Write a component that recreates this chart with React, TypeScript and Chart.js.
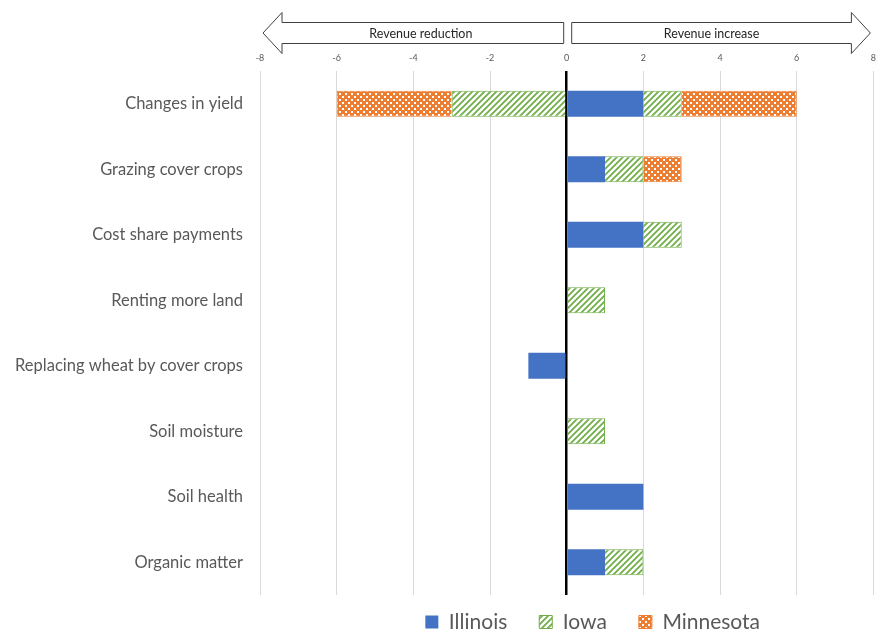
import React, { useEffect, useRef } from "react";
import { Chart, registerables } from "chart.js";

Chart.register(...registerables);

const categories = [
  "Changes in yield",
  "Grazing cover crops",
  "Cost share payments",
  "Renting more land",
  "Replacing wheat by cover crops",
  "Soil moisture",
  "Soil health",
  "Organic matter",
];
const illinois = [2, 1, 2, 0, -1, 0, 2, 1];
const iowa = [1, 1, 1, 1, 0, 1, 0, 1];
const iowaNeg = [-3, 0, 0, 0, 0, 0, 0, 0];
const minnesota = [3, 1, 0, 0, 0, 0, 0, 0];
const minnesotaNeg = [-3, 0, 0, 0, 0, 0, 0, 0];
const xMin = -8;
const xMax = 8;
const xStep = 2;
const arrowLeftText = "Revenue reduction";
const arrowRightText = "Revenue increase";

const BLUE = "#4472C4";
const GREEN = "#70AD47";
const ORANGE = "#ED7D31";
const FONT = "Lato, 'Open Sans', sans-serif";
const LEGEND_GAP = 32;
const LEGEND_FONT = 21;

function hatchPattern(): CanvasPattern | string {
  const c = document.createElement("canvas");
  c.width = 6;
  c.height = 6;
  const g = c.getContext("2d");
  if (!g) return GREEN;
  g.fillStyle = "#ffffff";
  g.fillRect(0, 0, 6, 6);
  g.strokeStyle = GREEN;
  g.lineWidth = 1.8;
  g.beginPath();
  g.moveTo(-1, 7);
  g.lineTo(7, -1);
  g.moveTo(-4, 4);
  g.lineTo(4, -4);
  g.moveTo(2, 10);
  g.lineTo(10, 2);
  g.stroke();
  return g.createPattern(c, "repeat") || GREEN;
}

function checkPattern(): CanvasPattern | string {
  const c = document.createElement("canvas");
  c.width = 6;
  c.height = 6;
  const g = c.getContext("2d");
  if (!g) return ORANGE;
  g.fillStyle = ORANGE;
  g.fillRect(0, 0, 6, 6);
  g.fillStyle = "#ffffff";
  g.fillRect(0, 0, 2, 2);
  g.fillRect(3, 3, 2, 2);
  return g.createPattern(c, "repeat") || ORANGE;
}

const arrowPlugin = {
  id: "revenueArrows",
  afterDraw(chart: any) {
    const ctx = chart.ctx;
    const x = chart.scales.x;
    const left = x.getPixelForValue(xMin) + 3;
    const zero = x.getPixelForValue(0);
    const right = x.getPixelForValue(xMax) - 3;
    const cy = 33;
    const bodyH = 10.5;
    const headH = 20.5;
    const headW = 19;
    ctx.save();
    ctx.strokeStyle = "#404040";
    ctx.lineWidth = 1;
    ctx.fillStyle = "#ffffff";
    ctx.beginPath();
    ctx.moveTo(left, cy);
    ctx.lineTo(left + headW, cy - headH);
    ctx.lineTo(left + headW, cy - bodyH);
    ctx.lineTo(zero - 3, cy - bodyH);
    ctx.lineTo(zero - 3, cy + bodyH);
    ctx.lineTo(left + headW, cy + bodyH);
    ctx.lineTo(left + headW, cy + headH);
    ctx.closePath();
    ctx.fill();
    ctx.stroke();
    ctx.beginPath();
    ctx.moveTo(right, cy);
    ctx.lineTo(right - headW, cy - headH);
    ctx.lineTo(right - headW, cy - bodyH);
    ctx.lineTo(zero + 5, cy - bodyH);
    ctx.lineTo(zero + 5, cy + bodyH);
    ctx.lineTo(right - headW, cy + bodyH);
    ctx.lineTo(right - headW, cy + headH);
    ctx.closePath();
    ctx.fill();
    ctx.stroke();
    ctx.fillStyle = "#262626";
    ctx.font = "12.5px " + FONT;
    ctx.textAlign = "center";
    ctx.textBaseline = "middle";
    ctx.fillText(arrowLeftText, (left + headW + zero - 3) / 2 - 2, cy + 1);
    ctx.fillText(arrowRightText, (right - headW + zero + 5) / 2, cy + 1);
    ctx.restore();
  },
};

// Move the legend up into place and shift it right, as in the reference
const legendShift = {
  id: "legendShift",
  afterLayout(chart: any) {
    const lg = chart.legend;
    if (!lg) return;
    const dy = -15.5;
    const dx = 26;
    lg.top += dy;
    lg.bottom += dy;
    lg.left += dx;
    lg.right += dx;
  },
};

export default function App() {
  const ref = useRef<HTMLCanvasElement>(null);
  useEffect(() => {
    if (!ref.current) return;
    const hatch = hatchPattern();
    const check = checkPattern();
    const chart = new Chart(ref.current, {
      type: "bar",
      data: {
        labels: categories,
        datasets: [
          { label: "Illinois", data: illinois, backgroundColor: BLUE, borderColor: BLUE, borderWidth: 0 },
          { label: "Iowa", data: iowa, backgroundColor: hatch, borderColor: GREEN, borderWidth: 1 },
          { label: "Iowa (neg)", data: iowaNeg, backgroundColor: hatch, borderColor: GREEN, borderWidth: 1 },
          { label: "Minnesota", data: minnesota, backgroundColor: check, borderColor: ORANGE, borderWidth: 1 },
          { label: "Minnesota (neg)", data: minnesotaNeg, backgroundColor: check, borderColor: ORANGE, borderWidth: 1 },
        ] as any,
      },
      options: {
        indexAxis: "y",
        animation: false,
        responsive: true,
        maintainAspectRatio: false,
        layout: { padding: { left: 0, right: 5, top: 0, bottom: 0 } },
        datasets: { bar: { barPercentage: 0.4, categoryPercentage: 1 } },
        scales: {
          x: {
            position: "top",
            stacked: true,
            min: xMin,
            max: xMax,
            ticks: { stepSize: xStep, color: "#595959", font: { size: 9, family: FONT }, padding: 8 },
            grid: {
              drawTicks: false,
              color: (c: any) => (c.tick && c.tick.value === 0 ? "#000000" : "#d9d9d9"),
              lineWidth: (c: any) => (c.tick && c.tick.value === 0 ? 2.5 : 1),
            },
            border: { display: false },
            afterFit: (s: any) => {
              s.height = 71;
            },
          },
          y: {
            stacked: true,
            ticks: { color: "#595959", font: { size: 16.5, family: FONT }, padding: 17 },
            grid: { display: false, drawTicks: false },
            border: { display: false },
            afterFit: (s: any) => {
              s.width = 260;
            },
          },
        },
        plugins: {
          tooltip: { enabled: false },
          legend: {
            position: "bottom",
            fullSize: false,
            labels: {
              color: "#595959",
              font: { size: LEGEND_FONT, family: FONT },
              boxWidth: 13,
              boxHeight: 13,
              padding: LEGEND_GAP,
              filter: (item: any) => !String(item.text).includes("(neg)"),
            },
          },
        },
      } as any,
      plugins: [arrowPlugin, legendShift],
    });
    return () => chart.destroy();
  }, []);
  return (
    <div style={{ position: "fixed", left: 0, top: 0, width: 884, height: 632, overflow: "hidden", background: "#fff" }}>
      <div style={{ position: "relative", width: 884, height: 595 + LEGEND_GAP + LEGEND_FONT + 10 }}>
        <canvas ref={ref} />
      </div>
    </div>
  );
}
